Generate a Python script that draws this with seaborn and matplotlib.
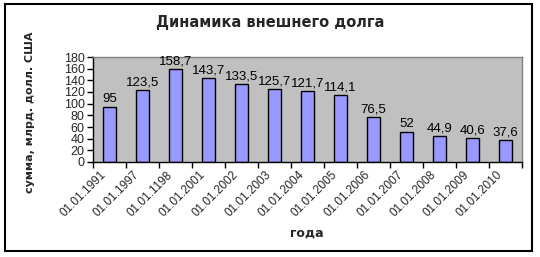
import matplotlib
matplotlib.use("Agg")
import matplotlib.pyplot as plt
import matplotlib.transforms as mtransforms
from matplotlib.patches import Rectangle
import seaborn as sns
import pandas as pd
import numpy as np

categories = ["01.01.1991", "01.01.1997", "01.01.1198", "01.01.2001", "01.01.2002",
              "01.01.2003", "01.01.2004", "01.01.2005", "01.01.2006", "01.01.2007",
              "01.01.2008", "01.01.2009", "01.01.2010"]
values = [95, 123.5, 158.7, 143.7, 133.5, 125.7, 121.7, 114.1, 76.5, 52, 44.9, 40.6, 37.6]
value_labels = ["95", "123,5", "158,7", "143,7", "133,5", "125,7", "121,7", "114,1",
                "76,5", "52", "44,9", "40,6", "37,6"]
y_ticks = [0, 20, 40, 60, 80, 100, 120, 140, 160, 180]

sns.set_theme(style="white")
plt.rcParams['font.family'] = ['Liberation Sans', 'DejaVu Sans']

df = pd.DataFrame({"cat": categories, "val": values})

W, H = 540, 257
fig = plt.figure(figsize=(W / 100, H / 100), dpi=100)
left, right, top, bottom = 93, 522, 57, 162
ax = fig.add_axes([left / W, 1 - bottom / H, (right - left) / W, (bottom - top) / H])
ax.set_facecolor("#C0C0C0")

sns.barplot(data=df, x="cat", y="val", ax=ax, color="#9999FF", saturation=1,
            width=0.4, edgecolor="black", linewidth=1)

ax.set_ylim(0, 180)
ax.set_xlim(-0.5, len(categories) - 0.5)
ax.set_yticks(y_ticks)
ax.set_yticklabels([str(t) for t in y_ticks], fontsize=9)
ax.tick_params(axis="y", length=4, width=1, color="black", direction="out", pad=2, left=True)

ax.set_xticks(range(len(categories)))
ax.set_xticklabels(categories, rotation=45, ha="right", rotation_mode="anchor", fontsize=8.5)
ax.tick_params(axis="x", length=0, pad=5)
offset = mtransforms.ScaledTranslation(-9 / 100, 0, fig.dpi_scale_trans)
for lbl in ax.get_xticklabels():
    lbl.set_transform(lbl.get_transform() + offset)
ax.set_xticks(np.arange(len(categories) + 1) - 0.5, minor=True)
ax.tick_params(axis="x", which="minor", length=4, width=1, color="black", direction="out", bottom=True)

for s in ["left", "bottom"]:
    ax.spines[s].set_color("black")
    ax.spines[s].set_linewidth(1)
for s in ["top", "right"]:
    ax.spines[s].set_color("#808080")
    ax.spines[s].set_linewidth(1)

for i, (v, t) in enumerate(zip(values, value_labels)):
    ax.text(i, v + 2.5, t, ha="center", va="bottom", fontsize=9.5, color="black")

ax.set_xlabel("")
ax.set_ylabel("")

fig.text(270 / W, 1 - 22 / H, "Динамика внешнего долга", ha="center", va="center",
         fontsize=10.5, fontweight="bold", family=["DejaVu Sans"])
fig.text(30 / W, 1 - 112 / H, "сумма, млрд. долл. США", ha="center", va="center",
         rotation=90, fontsize=8, fontweight="bold", family=["DejaVu Sans"])
fig.text(307 / W, 1 - 233 / H, "года", ha="center", va="center",
         fontsize=9, fontweight="bold", family=["DejaVu Sans"])

fig.patches.append(Rectangle((5 / W, 1 - 251 / H), 527 / W, 247 / H, transform=fig.transFigure,
                             fill=False, edgecolor="black", linewidth=1.5))

fig.savefig("out.png", dpi=100)
